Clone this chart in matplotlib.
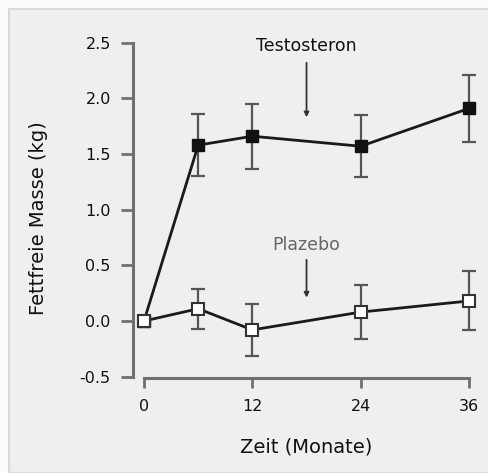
import numpy as np
import matplotlib
matplotlib.use('Agg')
import matplotlib.pyplot as plt
from matplotlib.patches import Rectangle

# Fettfreie Masse, Veraenderung gegenueber Ausgangswert (kg)
months = [0, 6, 12, 24, 36]
testo = [0.0, 1.58, 1.66, 1.57, 1.91]
testo_err = [0.0, 0.28, 0.29, 0.28, 0.30]
placebo = [0.0, 0.11, -0.08, 0.08, 0.18]
placebo_err = [0.0, 0.18, 0.235, 0.24, 0.265]

xticks = [0, 12, 24, 36]
yticks = [-0.5, 0.0, 0.5, 1.0, 1.5, 2.0, 2.5]
yticklabels = ['-0.5', '0.0', '0.5', '1.0', '1.5', '2.0', '2.5']

W, H = 488, 473
fig = plt.figure(figsize=(W / 100, H / 100), dpi=100, facecolor='#fbfbfb')

# grey panel behind the chart
fig.patches.append(Rectangle((9 / W, 0), 1, 1 - 9 / H, transform=fig.transFigure,
                             facecolor='#efefef', edgecolor='#d9d9d9', lw=1.5, zorder=-5))

ax = fig.add_axes([133 / W, (H - 382.2) / H, 349.6 / W, 350.6 / H])
ax.set_facecolor('none')
ax.set_zorder(1)
ax.set_xlim(-1.22, 37.5)
ax.set_ylim(-0.55, 2.6)

spine_col = '#707070'
for s in ['top', 'right']:
    ax.spines[s].set_visible(False)
ax.spines['left'].set_bounds(-0.5, 2.5)
ax.spines['bottom'].set_bounds(0, 36)
ax.spines['bottom'].set_position(('data', -0.51))
for s in ['left', 'bottom']:
    ax.spines[s].set_color(spine_col)
    ax.spines[s].set_linewidth(2.2)

ax.set_xticks(xticks)
ax.set_xticklabels([str(t) for t in xticks])
ax.set_yticks(yticks)
ax.set_yticklabels(yticklabels)
ax.tick_params(axis='y', direction='out', length=9, width=2, color=spine_col,
               pad=7, labelsize=11.5, labelcolor='#111111')
ax.tick_params(axis='x', direction='out', length=7, width=2, color=spine_col,
               pad=8, labelsize=11.5, labelcolor='#111111')

# error bars
ax.errorbar(months[1:], testo[1:], yerr=testo_err[1:], fmt='none', ecolor='#555555',
            elinewidth=1.6, capsize=5, capthick=1.6, zorder=2)
ax.errorbar(months[1:], placebo[1:], yerr=placebo_err[1:], fmt='none', ecolor='#555555',
            elinewidth=1.6, capsize=5, capthick=1.6, zorder=2)

# lines with markers
ax.plot(months, testo, color='#1a1a1a', lw=2, marker='s', markersize=9,
        markerfacecolor='#111111', markeredgecolor='#111111', zorder=3)
ax.plot(months, placebo, color='#1a1a1a', lw=2, marker='s', markersize=9,
        markerfacecolor='white', markeredgecolor='#333333', markeredgewidth=1.5, zorder=4)

# labels with arrows
arrow = dict(arrowstyle='-|>', color='#333333', lw=1.3, mutation_scale=7,
             shrinkA=0, shrinkB=0)
ax.text(18, 2.47, 'Testosteron', ha='center', va='center', fontsize=12.5, color='#111111')
ax.annotate('', xy=(18, 1.83), xytext=(18, 2.32), arrowprops=arrow)
ax.text(18, 0.68, 'Plazebo', ha='center', va='center', fontsize=12.5, color='#666666')
ax.annotate('', xy=(18, 0.21), xytext=(18, 0.55), arrowprops=arrow)

ax.set_xlabel('Zeit (Monate)', fontsize=14, va='center', color='#111111')
ax.set_ylabel('Fettfreie Masse (kg)', fontsize=14, va='center', color='#111111')
ax.xaxis.set_label_coords((306 - 133) / 349.6, (382.2 - 447) / 350.6)
ax.yaxis.set_label_coords((39 - 133) / 349.6, (382.2 - 218) / 350.6)

fig.savefig('out.png', dpi=100, facecolor=fig.get_facecolor())
